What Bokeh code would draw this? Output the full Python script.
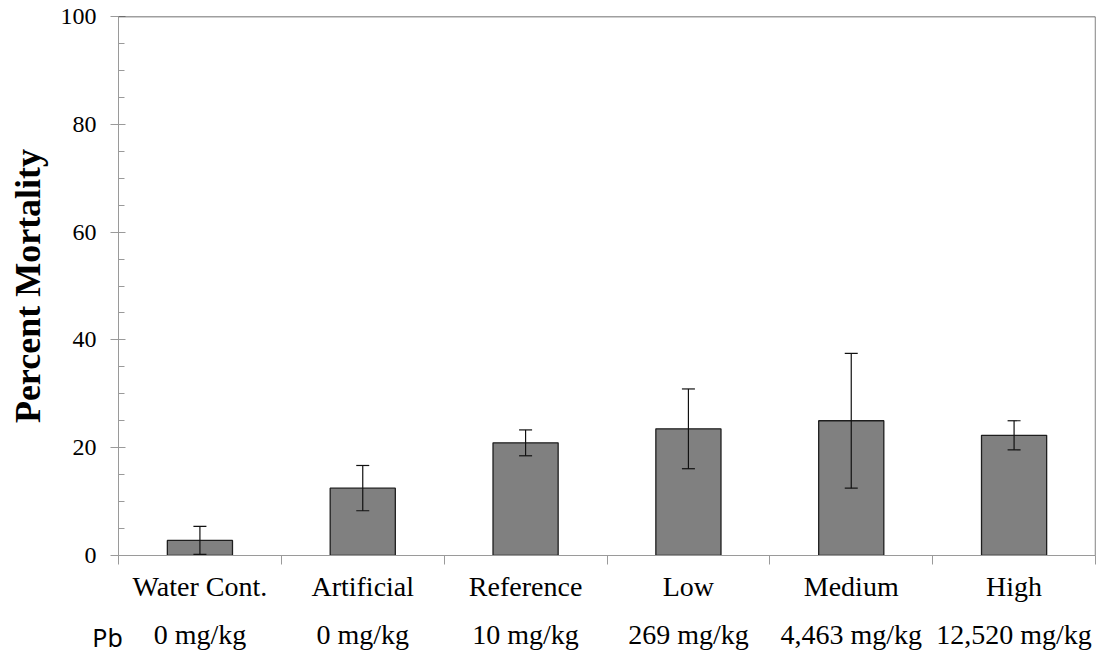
from bokeh.plotting import figure
from bokeh.layouts import column
from bokeh.models import (ColumnDataSource, Range1d, FixedTicker, Whisker, TeeHead, Span,
                          LinearAxis, CustomJSTickFormatter)
from bokeh.core.properties import value
from bokeh.embed import file_html
from bokeh.resources import INLINE

# Treatments, lead concentrations and mortality (mean +/- error)
treatments = ["Water Cont.", "Artificial", "Reference", "Low", "Medium", "High"]
pb_levels = ["0 mg/kg", "0 mg/kg", "10 mg/kg", "269 mg/kg", "4,463 mg/kg", "12,520 mg/kg"]
mortality = [2.8, 12.5, 20.9, 23.5, 25.0, 22.3]
error = [2.6, 4.2, 2.4, 7.4, 12.5, 2.7]
y_ticks = [0, 20, 40, 60, 80, 100]

SERIF = "Liberation Serif"
WIDTH = 1106
LEFT, RIGHT = 118, 11
MAIN_H, STRIP_H = 611, 44
N = len(treatments)

centers = [i + 0.5 for i in range(N)]
src = ColumnDataSource(dict(
    x=centers,
    top=mortality,
    upper=[m + e for m, e in zip(mortality, error)],
    lower=[m - e for m, e in zip(mortality, error)],
))

# ---- main bar chart ----
p = figure(width=WIDTH, height=MAIN_H, output_backend="svg", toolbar_location=None,
           x_range=Range1d(0, N), y_range=Range1d(0, 100),
           min_border_left=LEFT, min_border_right=RIGHT, min_border_top=16,
           min_border_bottom=56, frame_align=False)
p.outline_line_color = None
p.grid.grid_line_color = None

p.vbar(x="x", top="top", width=0.4, bottom=0, source=src,
       fill_color="#808080", line_color="#1e1e1e", line_width=1.3)

p.add_layout(Whisker(base="x", upper="upper", lower="lower", source=src,
                     level="overlay", line_color="#111111", line_width=1.2,
                     upper_head=TeeHead(size=13, line_color="#111111", line_width=1.2),
                     lower_head=TeeHead(size=13, line_color="#111111", line_width=1.2)))

# top and right frame lines
p.add_layout(Span(location=100, dimension="width", line_color="#404040", line_width=1.3))
p.add_layout(Span(location=N, dimension="height", line_color="#404040", line_width=1.3))

ya = p.yaxis[0]
ya.ticker = FixedTicker(ticks=y_ticks, minor_ticks=[v for v in range(0, 101, 5) if v % 20])
ya.axis_line_color = "#9a9a9a"
ya.major_tick_line_color = "#9a9a9a"
ya.minor_tick_line_color = "#9a9a9a"
ya.major_tick_out = 8
ya.major_tick_in = 7
ya.minor_tick_out = 0
ya.minor_tick_in = 6
ya.major_label_text_font = SERIF
ya.major_label_text_font_size = "24px"
ya.major_label_text_color = "black"
ya.major_label_standoff = 14
ya.axis_label = "Percent Mortality"
ya.axis_label_text_font = SERIF
ya.axis_label_text_font_size = "36px"
ya.axis_label_text_font_style = "bold"
ya.axis_label_text_color = "black"
ya.axis_label_standoff = 10

# x axis: category boundary ticks only
xa = p.xaxis[0]
xa.ticker = FixedTicker(ticks=list(range(N + 1)), minor_ticks=[])
xa.axis_line_color = "#9a9a9a"
xa.major_tick_line_color = "#9a9a9a"
xa.major_tick_out = 9
xa.major_tick_in = 0
xa.major_label_text_alpha = 0
xa.major_label_text_font_size = "1px"
xa.major_label_standoff = 0

# second x axis carrying the treatment names under each bar
names_axis = LinearAxis(
    ticker=FixedTicker(ticks=centers, minor_ticks=[]),
    formatter=CustomJSTickFormatter(args=dict(names=treatments), code="return names[index]"),
    axis_line_color=None, major_tick_line_color=None,
    major_tick_in=0, major_tick_out=0, major_label_standoff=6,
    major_label_text_font=SERIF, major_label_text_font_size="28px",
    major_label_text_color="black")
p.add_layout(names_axis, "below")

# ---- Pb concentration strip, spanning the full width on the same x scale ----
frame_w = WIDTH - LEFT - RIGHT
per_px = N / frame_w
lab = figure(width=WIDTH, height=STRIP_H, output_backend="svg", toolbar_location=None,
             x_range=Range1d(-LEFT * per_px, N + RIGHT * per_px),
             y_range=Range1d(STRIP_H, 0),
             min_border=0, x_axis_location=None, y_axis_location=None,
             frame_align=False)
lab.outline_line_color = None
lab.grid.grid_line_color = None

lab_src = ColumnDataSource(dict(x=centers, pb=pb_levels, y_pb=[23] * N))
lab.text(x="x", y="y_pb", text="pb", source=lab_src,
         text_font=value(SERIF), text_font_size="28px", text_color="black",
         text_align="center", text_baseline="middle")
lab.text(x=[-11 * per_px], y=[25], text=["Pb"], text_font=value("Noto Sans"),
         text_font_size="25px", text_color="black",
         text_align="center", text_baseline="middle")

layout = column(p, lab, spacing=0)
open("out.html", "w").write(file_html(layout, INLINE))
